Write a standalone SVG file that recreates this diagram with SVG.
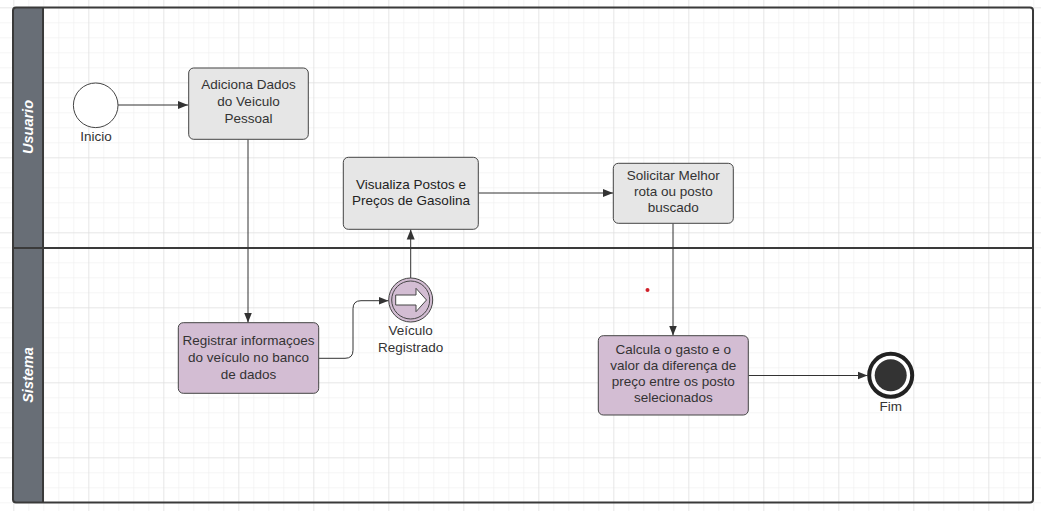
<svg xmlns="http://www.w3.org/2000/svg" width="1041" height="511" viewBox="0 0 1041 511">
<defs>
<pattern id="minor" x="13.3" y="7.3" width="15" height="15" patternUnits="userSpaceOnUse">
<path d="M0 0H15M0 0V15" fill="none" stroke="#ececec" stroke-width="1"/>
</pattern>
<pattern id="major" x="13.3" y="7.3" width="75" height="75" patternUnits="userSpaceOnUse">
<path d="M0 0H75M0 0V75" fill="none" stroke="#dcdcdc" stroke-width="1"/>
</pattern>
<marker id="arr" viewBox="0 0 10 10" refX="10" refY="5" markerWidth="10" markerHeight="10" markerUnits="userSpaceOnUse" orient="auto">
<path d="M0 1L10 5L0 9Z" fill="#333"/>
</marker>
</defs>
<style>
.t{font-family:"Liberation Sans",Arial,sans-serif;font-size:13.5px;fill:#333;text-anchor:middle}
.lane{font-family:"Liberation Sans",Arial,sans-serif;font-size:14.5px;font-weight:bold;font-style:italic;fill:#fff;text-anchor:middle}
.gray{fill:#e6e6e6;stroke:#444;stroke-width:1}
.purp{fill:#d3bdd3;stroke:#444;stroke-width:1}
.con{fill:none;stroke:#333;stroke-width:1}
</style>
<rect width="1041" height="511" fill="#fff"/>
<rect width="1041" height="511" fill="url(#minor)"/>
<rect width="1041" height="511" fill="url(#major)"/>

<g id="pool">
<rect x="13" y="7.5" width="30" height="495" rx="3" fill="#686e76"/>
<rect x="13" y="7.5" width="1020" height="495" rx="3" fill="none" stroke="#3a3a3a" stroke-width="2"/>
<line x1="43" y1="7.5" x2="43" y2="502.5" stroke="#3a3a3a" stroke-width="2"/>
<line x1="13" y1="248" x2="1033" y2="248" stroke="#3a3a3a" stroke-width="2"/>
<text class="lane" transform="translate(33 127) rotate(-90)">Usuario</text>
<text class="lane" transform="translate(33 375) rotate(-90)">Sistema</text>
</g>

<g id="connectors">
<line class="con" x1="118" y1="105" x2="188" y2="105" marker-end="url(#arr)"/>
<line class="con" x1="248" y1="139.5" x2="248" y2="322.5" marker-end="url(#arr)"/>
<path class="con" d="M319 358.3H345Q353 358.3 353 350.3V308.7Q353 300.7 361 300.7H388.5" marker-end="url(#arr)"/>
<line class="con" x1="410.7" y1="278" x2="410.7" y2="229.5" marker-end="url(#arr)"/>
<line class="con" x1="478.5" y1="193" x2="613" y2="193" marker-end="url(#arr)"/>
<line class="con" x1="673" y1="223.5" x2="673" y2="335.5" marker-end="url(#arr)"/>
<line class="con" x1="748.5" y1="375.5" x2="867.5" y2="375.5" marker-end="url(#arr)"/>
</g>

<g id="inicio">
<circle cx="95.7" cy="105.3" r="22.3" fill="#fff" stroke="#444" stroke-width="1"/>
<text class="t" x="96" y="141">Inicio</text>
</g>

<g id="adiciona">
<rect class="gray" x="188.7" y="68" width="119.6" height="71.3" rx="5"/>
<text class="t" x="248.5" y="89">Adiciona Dados</text>
<text class="t" x="248.5" y="106">do Veiculo</text>
<text class="t" x="248.5" y="123">Pessoal</text>
</g>

<g id="registrar">
<rect class="purp" x="178.3" y="322.7" width="140.4" height="70.6" rx="5"/>
<text class="t" x="248.5" y="345">Registrar informaçoes</text>
<text class="t" x="248.5" y="362">do veículo no banco</text>
<text class="t" x="248.5" y="379">de dados</text>
</g>

<g id="veiculo-registrado">
<circle cx="410.7" cy="300" r="22" fill="#d3bdd3" stroke="#444" stroke-width="1"/>
<circle cx="410.7" cy="300" r="19" fill="none" stroke="#444" stroke-width="1"/>
<path d="M395.7 295H416V288.3L426.5 300L416 311.7V305H395.7Z" fill="#fff" stroke="#444" stroke-width="1"/>
<text class="t" x="410.7" y="335">Veículo</text>
<text class="t" x="410.7" y="352">Registrado</text>
</g>

<g id="visualiza">
<rect class="gray" x="343.3" y="157.3" width="135" height="72" rx="5"/>
<text class="t" x="411" y="189" style="fill:#222">Visualiza Postos e</text>
<text class="t" x="411" y="205" style="fill:#222">Preços de Gasolina</text>
</g>

<g id="solicitar">
<rect class="gray" x="613.3" y="163.3" width="120" height="60" rx="5"/>
<text class="t" x="673.3" y="180">Solicitar Melhor</text>
<text class="t" x="673.3" y="196">rota ou posto</text>
<text class="t" x="673.3" y="212">buscado</text>
</g>

<g id="calcula">
<rect class="purp" x="598.3" y="335.7" width="150" height="79.3" rx="5"/>
<text class="t" x="673.3" y="354">Calcula o gasto e o</text>
<text class="t" x="673.3" y="370">valor da diferença de</text>
<text class="t" x="673.3" y="386">preço entre os posto</text>
<text class="t" x="673.3" y="402">selecionados</text>
</g>

<g id="fim">
<circle cx="890.7" cy="375.3" r="21.5" fill="#fff" stroke="#222" stroke-width="4"/>
<circle cx="890.7" cy="375.3" r="16" fill="#333"/>
<text class="t" x="890.7" y="411">Fim</text>
</g>

<circle cx="647.5" cy="290" r="2" fill="#d0202a"/>
</svg>
